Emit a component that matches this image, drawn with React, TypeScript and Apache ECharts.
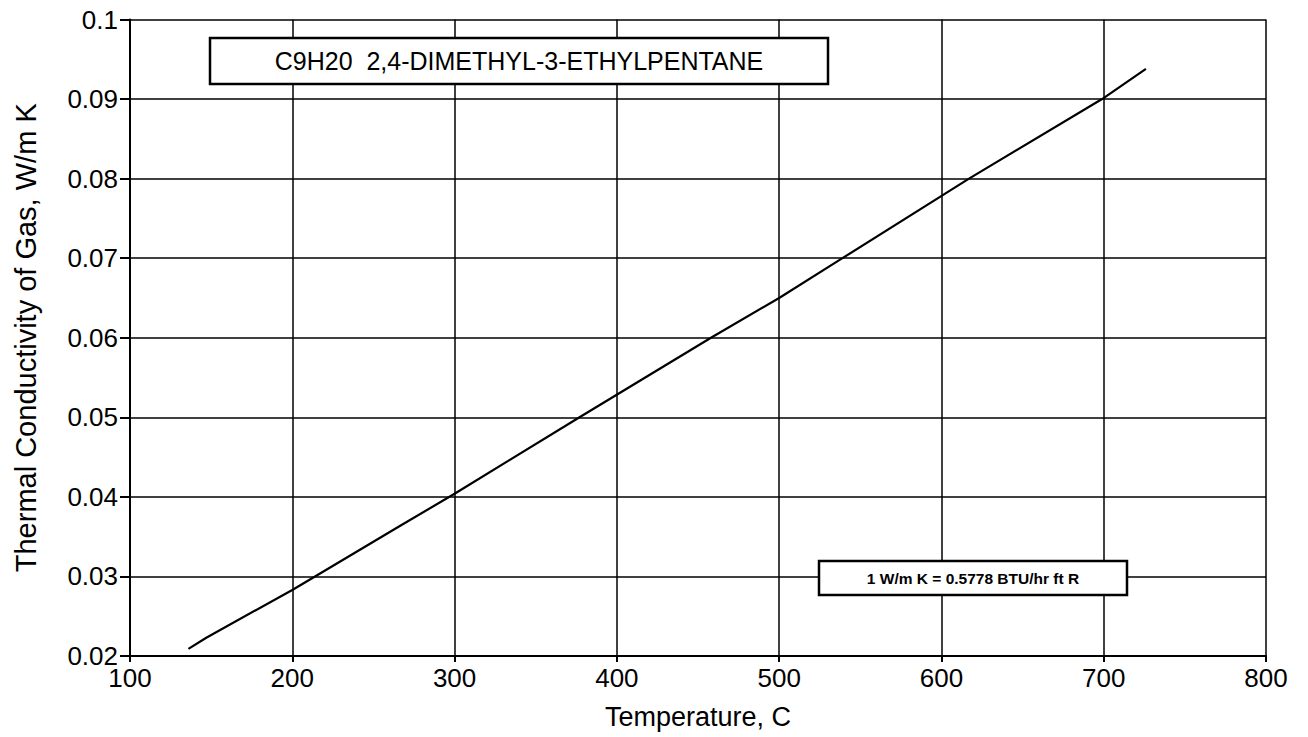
import React, { useEffect, useRef } from "react";
import * as echarts from "echarts";

const temperatureC = [136, 147, 200, 214, 266, 300, 377, 458, 500, 539, 617, 699, 726];
const conductivity = [0.0209, 0.0223, 0.0283, 0.03, 0.0363, 0.0404, 0.05, 0.06, 0.065, 0.07, 0.08, 0.09, 0.0938];
const titleText = "C9H20  2,4-DIMETHYL-3-ETHYLPENTANE";
const noteText = "1 W/m K = 0.5778 BTU/hr ft R";
const xAxisName = "Temperature, C";
const yAxisName = "Thermal Conductivity of Gas, W/m K";

const FONT = "'Liberation Sans', Arial, Helvetica, sans-serif";

export default function App() {
  const ref = useRef<HTMLDivElement>(null);
  useEffect(() => {
    if (!ref.current) return;
    const chart = echarts.init(ref.current, null, { renderer: "svg" });
    const data = temperatureC.map((t, i) => [t, conductivity[i]]);
    chart.setOption({
      animation: false,
      backgroundColor: "#ffffff",
      textStyle: { fontFamily: FONT },
      grid: { left: 130, right: 42, top: 19.5, bottom: 81, containLabel: false },
      xAxis: {
        type: "value",
        min: 100,
        max: 800,
        interval: 100,
        name: xAxisName,
        nameLocation: "middle",
        nameGap: 47,
        nameTextStyle: { color: "#000", fontSize: 27, fontFamily: FONT },
        axisLine: { show: true, lineStyle: { color: "#000", width: 2 } },
        axisTick: { show: true, inside: false, length: 6, lineStyle: { color: "#000", width: 2 } },
        axisLabel: { color: "#000", fontSize: 26, margin: 9, fontFamily: FONT },
        splitLine: { show: true, lineStyle: { color: "#000", width: 1.5 } },
      },
      yAxis: {
        type: "value",
        min: 0.02,
        max: 0.1,
        interval: 0.01,
        name: yAxisName,
        nameLocation: "middle",
        nameGap: 90,
        nameTextStyle: { color: "#000", fontSize: 29, fontFamily: FONT },
        axisLine: { show: true, lineStyle: { color: "#000", width: 2 } },
        axisTick: { show: true, inside: false, length: 10, lineStyle: { color: "#000", width: 2 } },
        axisLabel: {
          color: "#000",
          fontSize: 26,
          margin: 12,
          fontFamily: FONT,
          formatter: (v: number) => String(parseFloat(v.toFixed(3))),
        },
        splitLine: { show: true, lineStyle: { color: "#000", width: 1.5 } },
      },
      series: [
        {
          type: "line",
          data,
          showSymbol: false,
          symbol: "none",
          lineStyle: { color: "#000", width: 2.2 },
          z: 3,
        },
      ],
      graphic: [
        {
          type: "rect",
          shape: { x: 210, y: 38, width: 618, height: 46 },
          style: { fill: "#fff", stroke: "#000", lineWidth: 2.5 },
          z: 10,
        },
        {
          type: "text",
          x: 519,
          y: 61,
          style: {
            text: titleText,
            fill: "#000",
            fontSize: 25,
            fontFamily: FONT,
            align: "center",
            verticalAlign: "middle",
          },
          z: 11,
        },
        {
          type: "rect",
          shape: { x: 819, y: 561, width: 308, height: 34 },
          style: { fill: "#fff", stroke: "#000", lineWidth: 2.5 },
          z: 10,
        },
        {
          type: "text",
          x: 973,
          y: 578,
          style: {
            text: noteText,
            fill: "#000",
            fontSize: 15.5,
            fontWeight: "bold",
            fontFamily: FONT,
            align: "center",
            verticalAlign: "middle",
          },
          z: 11,
        },
      ],
    });
    return () => chart.dispose();
  }, []);
  return (
    <div
      ref={ref}
      style={{ position: "fixed", left: 0, top: 0, width: 1308, height: 737, background: "#fff" }}
    />
  );
}
